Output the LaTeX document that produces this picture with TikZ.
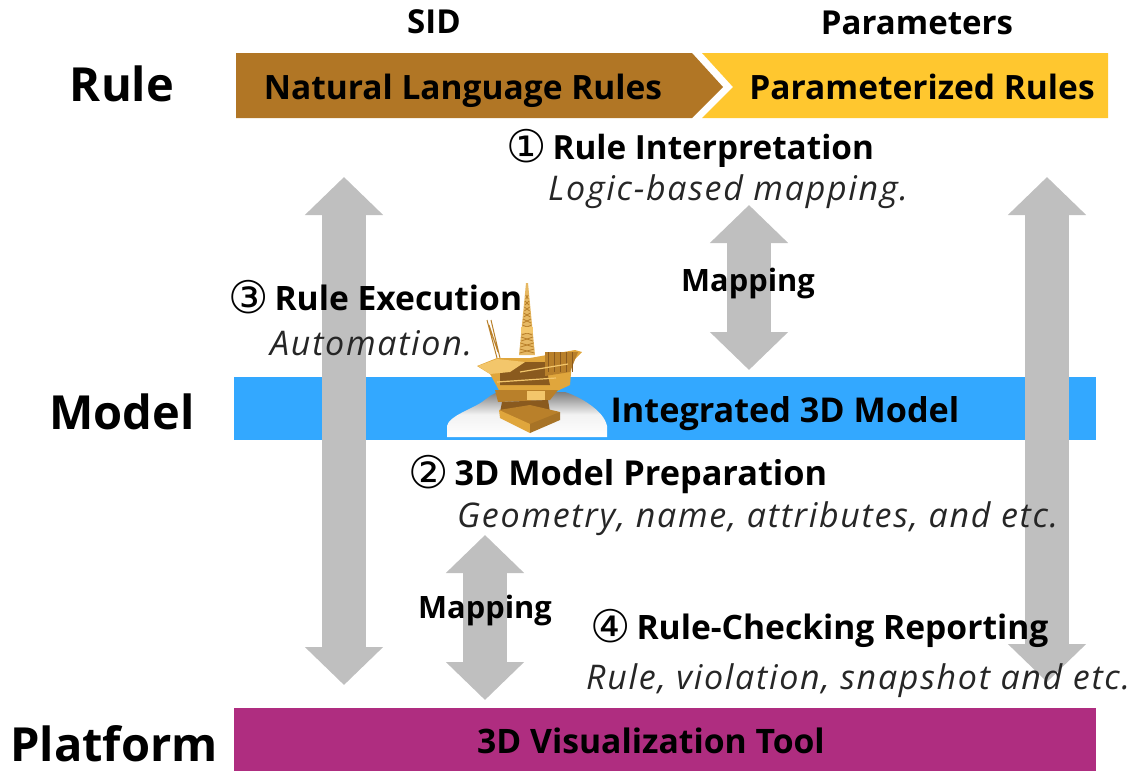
\documentclass[tikz,border=0pt]{standalone}
\usepackage{fontspec}
\setmainfont{Open Sans}
\newfontfamily\symfont{DejaVu Sans}
\newfontfamily\subfam[LetterSpace=5]{Open Sans}
\usetikzlibrary{arrows.meta}
\definecolor{brownband}{HTML}{B17625}
\definecolor{yellowband}{HTML}{FFC72F}
\definecolor{blueband}{HTML}{33A8FF}
\definecolor{magband}{HTML}{AF2D80}
\definecolor{arrowgray}{HTML}{BFBFBF}
\definecolor{goldA}{HTML}{E0A63C}
\definecolor{goldB}{HTML}{B9802A}
\definecolor{goldC}{HTML}{8A5A1E}
\definecolor{goldD}{HTML}{F3C66B}
\tikzset{
  bigarrow/.style={draw=arrowgray,line width=44pt,{Triangle[length=38pt,width=76pt]}-{Triangle[length=38pt,width=76pt]}},
  bandtext/.style={font=\fontsize{33.5}{38}\selectfont\bfseries,text=black,inner sep=0pt,anchor=base},
  sidetext/.style={font=\fontsize{47}{52}\selectfont\bfseries,text=black,inner sep=0pt,anchor=base},
  headtext/.style={font=\fontsize{33}{38}\selectfont\bfseries,text=black,inner sep=0pt,anchor=base},
  steptext/.style={font=\fontsize{33.6}{38}\selectfont\bfseries,text=black,inner sep=0pt,anchor=base west},
  subtext/.style={font=\subfam\fontsize{34}{38}\selectfont\itshape,text=black!85,inner sep=0pt,anchor=base west},
  maptext/.style={font=\fontsize{30.8}{36}\selectfont\bfseries,text=black,inner sep=0pt,anchor=base},
  latticeline/.style={draw=goldB,line width=0.8pt},
}
\newcommand{\stepnum}[1]{\raisebox{-3pt}{\symfont\fontsize{45}{38}\selectfont\mdseries #1}\hspace{6pt}}
\begin{document}
\begin{tikzpicture}[x=1pt,y=-1pt]
\useasboundingbox (0,0) rectangle (1135,771);
% bands
\fill[brownband] (236,53) -- (692,53) -- (723,87) -- (692,118) -- (236,118) -- cycle;
\fill[yellowband] (702,53) -- (1108,53) -- (1108,118) -- (702,118) -- (733,87) -- cycle;
\fill[blueband] (234,377) rectangle (1096,440);
\fill[magband] (234,708) rectangle (1096,771);
% arrow end points
\coordinate (la) at (344,177); \coordinate (lb) at (344,685);
\coordinate (ra) at (1047,177); \coordinate (rb) at (1047,682);
\coordinate (ma) at (749,205); \coordinate (mb) at (749,370);
\coordinate (na) at (485,535); \coordinate (nb) at (485,700);
\draw[bigarrow] (la) -- (lb);
\draw[bigarrow] (ra) -- (rb);
\draw[bigarrow] (ma) -- (mb);
\draw[bigarrow] (na) -- (nb);
% platform image (drawn): white-grey blob
\shade[inner color=black!32,outer color=white,middle color=black!5]
  (447,437) -- (447,426) .. controls (449,416) and (470,410) .. (482,402)
  .. controls (488,398) and (492,393) .. (500,392) -- (565,392)
  .. controls (578,396) and (604,410) .. (607,426) -- (607,437) -- cycle;
% derrick
\fill[goldA!80!white] (526,283) -- (528,283) -- (535,355) -- (519,355) -- cycle;
\foreach \yy in {295,301,...,350}{
  \draw[latticeline] ({527-(\yy-283)*0.11},\yy) -- ({527+(\yy-283)*0.11},\yy+4);
  \draw[latticeline] ({527+(\yy-283)*0.11},\yy) -- ({527-(\yy-283)*0.11},\yy+4);
}
\fill[goldD] (521,327) rectangle (533,333);
% crane
\draw[goldB,line width=1pt] (487,320) -- (497,358) (491,320) -- (500,358) (489,325) -- (498,352);
% deck
\fill[goldA] (477,366) -- (497,358) -- (530,358) -- (575,350) -- (582,352) -- (572,362) -- (570,385) -- (555,392) -- (500,392) -- (490,374) -- cycle;
\fill[goldC] (500,368) -- (520,362) -- (545,362) -- (550,385) -- (500,385) -- cycle;
\fill[goldB] (545,352) -- (578,352) -- (570,372) -- (545,376) -- cycle;
\fill[goldD] (478,366) -- (497,359) -- (525,362) -- (510,372) -- (490,374) -- cycle;
\foreach \xx in {548,554,...,572}{\draw[goldC,line width=0.8pt] (\xx,352) -- (\xx,372);}
\draw[goldD,line width=1.2pt] (520,372) -- (568,364) (497,382) -- (556,378);
\fill[goldB] (495,390) -- (558,390) -- (550,400) -- (498,402) -- cycle;
\fill[goldD] (527,391) rectangle (545,400);
\fill[goldC] (502,402) -- (548,400) -- (550,412) -- (500,412) -- cycle;
\fill[goldB] (499,410) -- (530,431) -- (560,412) -- (530,405) -- cycle;
\fill[goldA] (499,410) -- (500,418) -- (530,433) -- (530,424) -- cycle;
\fill[goldB!90!black] (530,424) -- (530,433) -- (560,420) -- (560,412) -- cycle;
% texts
\node[sidetext] (rulelbl) at (122,101) {Rule};
\node[sidetext] (modellbl) at (122,429) {Model};
\node[sidetext] (platlbl) at (114,761) {Platform};
\node[headtext] (sid) at (434,33) {SID};
\node[headtext] (par) at (917,34) {Parameters};
\node[bandtext] (nat) at (463,99) {Natural Language Rules};
\node[bandtext] (prm) at (922,99) {Parameterized Rules};
\node[bandtext,font=\fontsize{34.2}{38}\selectfont\bfseries] (intm) at (785,422) {Integrated 3D Model};
\node[bandtext,font=\fontsize{33.7}{38}\selectfont\bfseries] (vis) at (651,753) {3D Visualization Tool};
\node[steptext,font=\fontsize{33.3}{38}\selectfont\bfseries] (s1) at (506,159) {\stepnum{①}Rule Interpretation};
\node[subtext] (s1b) at (548,200) {Logic-based mapping.};
\node[steptext] (s3) at (228,310) {\stepnum{③}Rule Execution};
\node[subtext] (s3b) at (270,355) {Automation.};
\node[steptext,font=\fontsize{34.3}{38}\selectfont\bfseries] (s2) at (408,485) {\stepnum{②}3D Model Preparation};
\node[subtext] (s2b) at (457,527) {Geometry, name, attributes, and etc.};
\node[steptext] (s4) at (590,639) {\stepnum{④}Rule-Checking Reporting};
\node[subtext] (s4b) at (586,689) {Rule, violation, snapshot and etc.};
\node[maptext] (m1) at (748,291) {Mapping};
\node[maptext] (m2) at (485,618) {Mapping};
\end{tikzpicture}
\end{document}
